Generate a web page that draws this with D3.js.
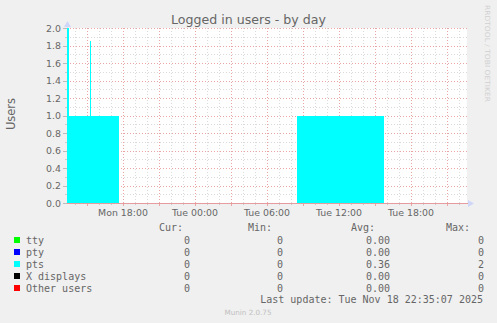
<!DOCTYPE html>
<html><head><meta charset="utf-8">
<script src="https://cdn.jsdelivr.net/npm/d3@7"></script>
<style>
html,body{margin:0;padding:0;background:#f0f0f0;}
svg{display:block;}
text{font-family:"DejaVu Sans",sans-serif;}
.mono{font-family:"DejaVu Sans Mono",monospace;}
</style></head><body>
<svg id="c" width="497" height="323"></svg>
<script>
// ---- data ----
const title = "Logged in users - by day";
const yTitle = "Users";
const timeDomain = ["2025-11-17T13:20:00", "2025-11-18T22:40:00"];
const yTicks = [0.0, 0.2, 0.4, 0.6, 0.8, 1.0, 1.2, 1.4, 1.6, 1.8, 2.0];
const xTickLabels = ["Mon 18:00", "Tue 00:00", "Tue 06:00", "Tue 12:00", "Tue 18:00"];
const xTickTimes = ["2025-11-17T18:00:00", "2025-11-18T00:00:00", "2025-11-18T06:00:00", "2025-11-18T12:00:00", "2025-11-18T18:00:00"];
const seriesTimes = ["2025-11-17T13:20:00", "2025-11-17T13:30:00", "2025-11-17T15:15:00", "2025-11-17T15:22:00",
                     "2025-11-17T17:38:00", "2025-11-18T08:30:00", "2025-11-18T15:45:00", "2025-11-18T22:40:00"];
const ttyValues   = [0, 0, 0, 0, 0, 0, 0, 0];
const ptyValues   = [0, 0, 0, 0, 0, 0, 0, 0];
const ptsValues   = [2, 1, 1.85, 1, 0, 1, 0, 0];
const xValues     = [0, 0, 0, 0, 0, 0, 0, 0];
const otherValues = [0, 0, 0, 0, 0, 0, 0, 0];
const legendNames  = ["tty", "pty", "pts", "X displays", "Other users"];
const legendColors = ["#00ff00", "#0000ff", "#00ffff", "#000000", "#ff0000"];
const legendCur = ["0", "0", "0", "0", "0"];
const legendMin = ["0", "0", "0", "0", "0"];
const legendAvg = ["0.00", "0.00", "0.36", "0.00", "0.00"];
const legendMax = ["0", "0", "2", "0", "0"];
const lastUpdate = "Last update: Tue Nov 18 22:35:07 2025";
const footer = "Munin 2.0.75";
const watermark = "RRDTOOL / TOBI OETIKER";

// ---- drawing ----
const svg = d3.select("#c");
const X0 = 67, X1 = 467, Y0 = 203, Y1 = 28;
const parse = d3.isoParse;
const x = d3.scaleTime().domain(timeDomain.map(parse)).range([X0, X1]);
const y = d3.scaleLinear().domain([0, 2]).range([Y0, Y1]);

svg.append("rect").attr("width", 497).attr("height", 323).attr("fill", "#f0f0f0");
svg.append("rect").attr("x", X0).attr("y", Y1).attr("width", X1 - X0).attr("height", Y0 - Y1).attr("fill", "#ffffff");

const g = svg.append("g").attr("shape-rendering", "crispEdges");
const hours = d3.timeHour.range(x.domain()[0], x.domain()[1]);
const minorX = hours.filter(d => d.getHours() % 3 !== 0);
const majorX = hours.filter(d => d.getHours() % 3 === 0);
const minorY = d3.range(1, 20, 2).map(i => i / 10);
g.selectAll(".mgx").data(minorX).join("line")
  .attr("x1", d => Math.round(x(d)) + 0.5).attr("x2", d => Math.round(x(d)) + 0.5)
  .attr("y1", Y1).attr("y2", Y0).attr("stroke", "#dadada").attr("stroke-dasharray", "1,2");
g.selectAll(".mgy").data(minorY).join("line")
  .attr("y1", d => Math.round(y(d)) + 0.5).attr("y2", d => Math.round(y(d)) + 0.5)
  .attr("x1", X0).attr("x2", X1).attr("stroke", "#dadada").attr("stroke-dasharray", "1,2");
g.selectAll(".Mgx").data(majorX).join("line")
  .attr("x1", d => Math.round(x(d)) + 0.5).attr("x2", d => Math.round(x(d)) + 0.5)
  .attr("y1", Y1).attr("y2", Y0).attr("stroke", "#eaa4a4").attr("stroke-dasharray", "1,2");
g.selectAll(".Mgy").data(yTicks.filter(d => d > 0)).join("line")
  .attr("y1", d => Math.round(y(d)) + 0.5).attr("y2", d => Math.round(y(d)) + 0.5)
  .attr("x1", X0).attr("x2", X1 + 2).attr("stroke", "#eaa4a4").attr("stroke-dasharray", "1,2");

// tick marks
g.selectAll(".ty").data(yTicks).join("line")
  .attr("y1", d => Math.round(y(d)) + 0.5).attr("y2", d => Math.round(y(d)) + 0.5)
  .attr("x1", X0 - 4).attr("x2", X0).attr("stroke", "#bbbbbb");
g.selectAll(".tym").data(minorY).join("line")
  .attr("y1", d => Math.round(y(d)) + 0.5).attr("y2", d => Math.round(y(d)) + 0.5)
  .attr("x1", X0 - 2).attr("x2", X0).attr("stroke", "#cccccc");
g.selectAll(".tx").data(majorX).join("line")
  .attr("x1", d => Math.round(x(d)) + 0.5).attr("x2", d => Math.round(x(d)) + 0.5)
  .attr("y1", Y0).attr("y2", Y0 + 3).attr("stroke", "#eaa4a4");
g.selectAll(".txm").data(minorX).join("line")
  .attr("x1", d => Math.round(x(d)) + 0.5).attr("x2", d => Math.round(x(d)) + 0.5)
  .attr("y1", Y0).attr("y2", Y0 + 2).attr("stroke", "#cccccc");

// y axis (under the data)
svg.append("line").attr("x1", X0 + 0.5).attr("x2", X0 + 0.5).attr("y1", Y0).attr("y2", Y1 - 2)
  .attr("stroke", "#cfd6f8").attr("stroke-opacity", 0.6);

// stacked areas
const rows = seriesTimes.map((t, i) => ({t: parse(t), tty: ttyValues[i], pty: ptyValues[i], pts: ptsValues[i], xd: xValues[i], oth: otherValues[i]}));
const stack = d3.stack().keys(["tty", "pty", "pts", "xd", "oth"])(rows);
const area = d3.area().curve(d3.curveStepAfter)
  .x(d => x(d.data.t)).y0(d => y(d[0])).y1(d => y(d[1]));
svg.append("g").selectAll("path").data(stack).join("path")
  .attr("d", area).attr("fill", (d, i) => legendColors[i]).attr("shape-rendering", "crispEdges");

svg.append("line").attr("x1", X0).attr("x2", X1 + 1).attr("y1", Y0 + 0.5).attr("y2", Y0 + 0.5)
  .attr("stroke", "#e49c9c");
svg.append("path").attr("d", `M${X0 - 3},${Y1 - 1}L${X0 + 0.5},${Y1 - 7}L${X0 + 4},${Y1 - 1}Z`).attr("fill", "#cfd6f8");
svg.append("path").attr("d", `M${X1 + 1},${Y0 - 3}L${X1 + 7},${Y0 + 0.5}L${X1 + 1},${Y0 + 4}Z`).attr("fill", "#cfd6f8");

// y labels
svg.append("g").selectAll("text").data(yTicks).join("text")
  .attr("x", 61).attr("y", d => y(d) + 3.5).attr("text-anchor", "end")
  .attr("font-size", "9.4px").attr("fill", "#666666").text(d => d.toFixed(1));
// x labels
svg.append("g").selectAll("text").data(xTickTimes).join("text")
  .attr("x", d => x(parse(d))).attr("y", 215.5).attr("text-anchor", "middle")
  .attr("font-size", "9.4px").attr("fill", "#666666").text((d, i) => xTickLabels[i]);

// titles
svg.append("text").attr("x", 248.5).attr("y", 23.5).attr("text-anchor", "middle")
  .attr("font-size", "12.6px").attr("fill", "#666666").text(title);
svg.append("text").attr("transform", "translate(15,114) rotate(-90)").attr("text-anchor", "middle")
  .attr("font-size", "11.5px").attr("fill", "#666666").text(yTitle);
svg.append("text").attr("transform", "translate(485,5) rotate(90)").attr("text-anchor", "start")
  .attr("font-size", "7px").attr("fill", "#d0d0d0")
  .attr("textLength", 97).attr("lengthAdjust", "spacingAndGlyphs").text(watermark);

// legend
const lg = svg.append("g");
const hdr = [["Cur:", 182], ["Min:", 271], ["Avg:", 374], ["Max:", 469]];
lg.selectAll(".h").data(hdr).join("text").attr("class", "mono")
  .attr("x", d => d[1] + 1).attr("y", 231).attr("text-anchor", "end")
  .attr("font-size", "10px").attr("fill", "#666666").text(d => d[0]);
const rowY = i => 243.5 + i * 12;
lg.selectAll("rect").data(legendNames).join("rect")
  .attr("x", 14).attr("y", (d, i) => rowY(i) - 6.5).attr("width", 6).attr("height", 6)
  .attr("fill", (d, i) => legendColors[i]);
lg.selectAll(".n").data(legendNames).join("text").attr("class", "mono")
  .attr("x", 26).attr("y", (d, i) => rowY(i)).attr("font-size", "10px").attr("fill", "#666666").text(d => d);
const cols = [[legendCur, 190], [legendMin, 283], [legendAvg, 390], [legendMax, 484]];
cols.forEach(([vals, xr]) => {
  lg.append("g").selectAll("text").data(vals).join("text").attr("class", "mono")
    .attr("x", xr).attr("y", (d, i) => rowY(i)).attr("text-anchor", "end")
    .attr("font-size", "10px").attr("fill", "#666666").text(d => d);
});
svg.append("text").attr("class", "mono").attr("x", 483).attr("y", 303).attr("text-anchor", "end")
  .attr("font-size", "10px").attr("fill", "#666666").text(lastUpdate);
svg.append("text").attr("x", 248).attr("y", 315).attr("text-anchor", "middle")
  .attr("font-size", "7.2px").attr("fill", "#c0c0c0").text(footer);
</script>
</body></html>
